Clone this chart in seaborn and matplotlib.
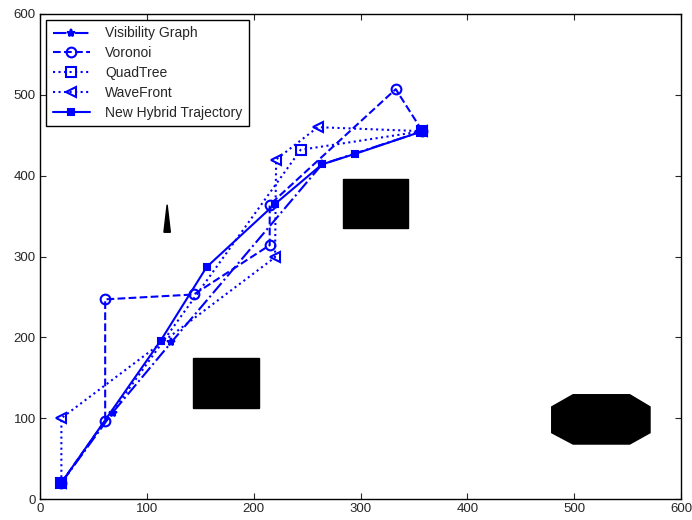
import matplotlib
matplotlib.use("Agg")
import matplotlib.pyplot as plt
import seaborn as sns
import pandas as pd

# ---- data ----
vis_x = [20, 68, 123, 264, 358]
vis_y = [20, 107, 194, 414, 455]

vor_x = [20, 61, 61, 144, 215, 215, 333, 358]
vor_y = [20, 97, 247, 253, 314, 364, 507, 455]

quad_x = [20, 244, 358]
quad_y = [20, 432, 455]

wave_x = [20, 20, 220, 221, 260, 358]
wave_y = [20, 100, 299, 420, 460, 455]

hyb_x = [20, 113, 156, 220, 264, 295, 358]
hyb_y = [20, 196, 287, 365, 414, 427, 455]

labels = ["Visibility Graph", "Voronoi", "QuadTree", "WaveFront", "New Hybrid Trajectory"]

# obstacles (polygon vertices)
obs1_x = [143, 205, 205, 143]
obs1_y = [113, 113, 175, 175]
obs2_x = [284, 344, 344, 284]
obs2_y = [335, 335, 396, 396]
oct_x = [499, 552, 571, 571, 552, 499, 479, 479]
oct_y = [129, 129, 114, 82, 68, 68, 82, 114]
tri_x = [116, 122, 119]
tri_y = [330, 330, 364]

xticks = [0, 100, 200, 300, 400, 500, 600]
yticks = [0, 100, 200, 300, 400, 500, 600]

# ---- plot ----
sns.set_style("ticks")
plt.rcParams['font.family'] = ['Liberation Sans', 'DejaVu Sans']
plt.rcParams['xtick.direction'] = 'in'
plt.rcParams['ytick.direction'] = 'in'

fig = plt.figure(figsize=(6.92, 5.20), dpi=100)
ax = fig.add_axes([40/692, 21/520, 641/692, 485/520])

blue = '#0000ff'
for px, py in [(obs1_x, obs1_y), (obs2_x, obs2_y), (oct_x, oct_y), (tri_x, tri_y)]:
    ax.fill(px, py, color='black', zorder=1)

series = [
    (vis_x, vis_y, dict(linestyle='-.', marker='*', markersize=6, markerfacecolor=blue)),
    (vor_x, vor_y, dict(linestyle='--', marker='o', markersize=7, markerfacecolor='none')),
    (quad_x, quad_y, dict(linestyle=':', marker='s', markersize=7, markerfacecolor='none')),
    (wave_x, wave_y, dict(linestyle=':', marker='<', markersize=7, markerfacecolor='none')),
    (hyb_x, hyb_y, dict(linestyle='-', marker='s', markersize=4, markerfacecolor=blue)),
]
for (sx, sy, kw), lab in zip(series, labels):
    df = pd.DataFrame({'x': sx, 'y': sy})
    sns.lineplot(data=df, x='x', y='y', sort=False, estimator=None, ax=ax,
                 color=blue, linewidth=1.5, markeredgecolor=blue,
                 markeredgewidth=1.5, label=lab, zorder=3, **kw)

ax.set_xlim(0, 600)
ax.set_ylim(0, 600)
ax.set_xticks(xticks)
ax.set_yticks(yticks)
ax.set_xlabel('')
ax.set_ylabel('')
ax.tick_params(axis='both', which='both', top=True, right=True, labelsize=9.5,
               length=4, width=0.8, pad=3)
for s in ax.spines.values():
    s.set_linewidth(1.0)
    s.set_color('black')

leg = ax.legend(loc='upper left', fontsize=10, frameon=True, fancybox=False,
                edgecolor='black', framealpha=1, handlelength=2.7,
                handletextpad=1.1, borderaxespad=0.45, labelspacing=0.42,
                borderpad=0.45)
leg.get_frame().set_linewidth(1.0)

fig.savefig('out.png', dpi=100)
